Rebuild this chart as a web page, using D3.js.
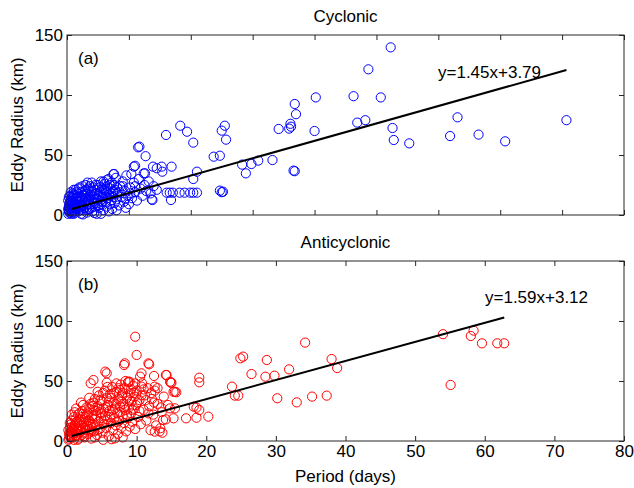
<!DOCTYPE html>
<html>
<head>
<meta charset="utf-8">
<script src="https://cdn.jsdelivr.net/npm/d3@7"></script>
<style>
  body { margin: 0; background: #fff; }
  text { font-family: "Liberation Sans", Arial, sans-serif; fill: #000; }
</style>
</head>
<body>
<div id="chart"></div>
<script>
// cyclonic eddies: [period (days), radius (km)]
const cycPoints = [
  [52.3,139.7],[48.7,121.4],[40.2,98],[46.3,99],[50.7,98],[36.8,92.5],[37,84],[40,70],[46.9,77],[48.2,79],
  [52.6,72.5],[52.8,62.5],[55.3,59.7],[63.1,81.4],[61.9,65.8],[66.5,67],[70.8,61.4],[80.7,79],
  [36.1,76],[36.2,73.6],[35.9,72],[34.2,71.7],[36.6,37],[36.8,36.5],[33.2,45.8],[30.9,45.3],[29.8,42.5],
  [28.9,34.7],[28.3,42],[25.5,74.4],[25,70.3],[25.7,62.8],[24.7,49.4],[23.7,48.6],[24.7,20.3],[25.2,19.4],[25,19],
  [19.4,69.4],[18.3,74.4],[20.4,60.3],[21,36.1],[20.4,30],[16,66.7],[16.9,40.3],[15.3,40.3],[15.4,36.1],
  [13.9,40.3],[13.8,12.5],[16.1,18.6],[16.6,18.6],[17.1,18.6],[18.2,18.6],[19,18.6],[19.9,18.6],[20.4,18.6],
  [21,18.6],[16.8,12.5],[11.7,57],[12.7,49],[12.4,34.7],[10.8,40.3],[10.4,34.2],[7.6,34.2],[5.9,27.8],
  [11.5,56.4],[11,41],[14.5,39],[12.6,34.7],[7.5,34],[6.4,29],[13.7,13],[4.4,1.7],
  [0.2,1],[0.3,4],[0.3,7],[0.4,10],[0.2,12],[0.7,1],[0.9,2],[1.1,1],[0.5,16],[0.9,18],[0.3,15],
  [0.4,2],[0.5,5],[0.6,8],[0.5,11],[0.7,3],[0.8,6],[0.9,9],[0.6,13],[0.8,15],[1.0,4],[1.1,7],[1.2,10],
  [1.0,12],[1.3,2],[1.4,14],[1.5,5],[1.6,8],[1.2,17],[1.7,11],[1.8,3],[1.9,13],[2.0,6],[2.1,9],[1.5,19],
  [2.2,15],[2.3,1],[2.4,12],[2.5,7],[2.6,17],[2.7,4],[2.8,10],[2.9,20],[3.0,14],[3.1,8],[3.2,2],[3.3,18],
  [3.4,12],[3.5,22],[3.6,5],[3.7,15],[3.8,9],[3.9,19],[4.0,13],[4.1,3],[4.2,23],[4.3,11],[4.4,17],[4.5,7],
  [4.6,21],[4.7,14],[4.8,1],[4.9,10],[5.0,25],[5.1,16],[5.2,6],[5.3,19],[5.4,12],[5.5,28],[5.6,9],[5.7,22],
  [5.8,15],[5.9,4],[6.0,18],[6.1,26],[6.2,11],[6.3,20],[6.4,7],[6.5,24],[6.6,14],[6.7,30],[6.8,17],[6.9,9],
  [7.0,22],[7.1,12],[7.2,27],[7.3,5],[7.4,19],[7.5,15],[7.6,25],[7.7,10],[7.8,21],[7.9,31],[8.0,13],[8.2,18],
  [8.4,8],[8.6,24],[8.8,15],[9.0,28],[9.2,11],[9.4,20],[9.6,33],[9.8,16],[10.0,9],[10.2,23],[10.5,14],
  [10.8,27],[11.0,19],[11.3,12],[11.6,30],[11.9,22],[12.2,16],[12.5,25],[12.8,20],[13.2,28],[13.5,18],
  [14.0,24],[14.5,21],[1.4,21],[2.0,23],[3.0,25],[4.0,27],[2.6,0.5],[5.5,1],[6.8,3],[8.0,4],[9.5,6],
  [0.3,3],[0.4,6],[0.6,9],[0.7,12],[0.9,14],[1.0,16],[1.1,3],[1.3,6],[1.3,9],[1.5,12],[1.6,15],[1.7,18],
  [1.8,7],[2.0,11],[2.1,14],[2.2,4],[2.3,19],[2.4,8],[2.5,13],[2.7,16],[2.8,6],[2.9,11],[3.0,21],[3.1,16],
  [3.3,4],[3.4,9],[3.6,13],[3.7,24],[3.8,17],[4.0,6],[4.1,20],[4.3,15],[4.5,10],[4.6,25],[4.8,18],[5.0,13],
  [5.1,8],[5.3,23],[5.5,17],[5.7,11],[6.0,21],[6.2,15],[6.5,19],[6.9,25],[7.2,16],[7.5,20],[8.1,23],
  [8.5,19],[9.0,24],[9.5,14],[10.2,18],[11.0,24],[0.6,19],[1.1,21],[1.9,22],[2.5,24],[3.3,27],[0.2,5],
  [0.4,8],[0.8,10]
];

// anticyclonic eddies: [period (days), radius (km)]
const antiPoints = [
  [54,89],[58.4,92],[58,87.5],[59.6,81.4],[61.8,81.4],[62.8,81.4],[55.1,46.7],[34.2,82],[38,68.3],[38.8,60.8],
  [37.3,37.8],[35.2,37],[33,32.2],[31.9,59.7],[30.2,35.6],[29.8,54.4],[28.5,53.6],[28.7,67.5],[26.5,55.8],
  [25.3,70.3],[24.9,68.9],[24.6,37.8],[24.1,37.8],[23.7,45.3],[20.3,20.3],[19,52.8],[19,48.9],[19,25.8],
  [18.6,19.4],[17.1,18.9],[15.3,18.9],[15.7,40.6],[14.9,48.6],[14.2,55],[14.8,27.2],[13.7,6.9],[12.5,54.2],
  [11.8,63.9],[10.7,56.4],[9.8,86.9],[10,71.7],[8.2,63.3],[8.8,49.4],[5.7,56.4],[5.7,48.6],[3.8,50.8],
  [3.4,48.1],[3.7,29.2],[6.9,2.2],[18.6,27.8],[18.2,28.6],[15.5,27.2],[15.3,41],[15,48.6],[5.5,57.8],
  [8.3,64.7],[11.7,64.7],[7.1,48],[7.6,42.5],[9,49.4],[10.5,53.6],[10.7,45.3],[12.6,45.3],[14.3,55],
  [14.8,49.4],[15.5,41],[13.8,17.5],[13.4,10.6],[12.6,7.8],
  [0.3,2],[0.4,5],[0.5,8],[0.4,11],[0.6,14],[0.7,3],[0.8,6],[0.9,10],[0.6,17],[1.0,1],[1.1,13],[1.2,7],
  [1.0,20],[1.3,4],[1.4,16],[1.5,10],[1.6,22],[1.7,2],[1.8,13],[1.9,8],[2.0,18],[2.1,5],[2.2,25],[2.3,11],
  [2.4,15],[2.5,3],[2.6,20],[2.7,9],[2.8,28],[2.9,13],[3.0,6],[3.1,23],[3.2,17],[3.3,10],[3.4,31],[3.5,2],
  [3.6,19],[3.7,14],[3.8,26],[3.9,8],[4.0,35],[4.1,12],[4.2,21],[4.3,5],[4.4,29],[4.5,16],[4.6,38],[4.7,10],
  [4.8,24],[4.9,19],[5.0,33],[5.1,7],[5.2,27],[5.3,14],[5.4,42],[5.5,21],[5.6,11],[5.7,36],[5.8,18],[5.9,30],
  [6.0,4],[6.1,25],[6.2,39],[6.3,15],[6.4,22],[6.5,45],[6.6,9],[6.7,32],[6.8,19],[6.9,27],[7.0,13],[7.1,41],
  [7.2,23],[7.3,6],[7.4,35],[7.5,17],[7.6,29],[7.7,47],[7.8,11],[7.9,38],[8.0,21],[8.1,31],[8.2,15],[8.3,44],
  [8.4,26],[8.5,8],[8.6,36],[8.7,19],[8.8,49],[8.9,28],[9.0,12],[9.1,40],[9.2,23],[9.3,33],[9.4,16],[9.5,46],
  [9.6,27],[9.7,37],[9.8,10],[9.9,30],[10.0,42],[10.2,20],[10.4,34],[10.6,14],[10.8,48],[11.0,26],[11.2,38],
  [11.4,17],[11.6,44],[11.8,29],[12.0,9],[12.2,35],[12.4,22],[12.6,42],[12.8,13],[13.0,31],[13.3,8],
  [13.6,24],[13.9,37],[14.2,18],[14.5,30],
  [0.2,1],[0.3,6],[0.5,3],[0.2,9],[0.8,12],[1.2,18],[1.5,1],[2.0,9],[2.4,4],[0.4,15],[1.8,23],[2.7,16],
  [3.0,12],[3.5,8],[4.0,3],[1.1,24],[2.3,30],[3.2,36],[4.4,41],[0.7,22],[5.2,1],[6.4,1.5],[8.0,3],
  [0.4,4],[0.6,7],[0.8,9],[1.0,11],[1.2,14],[1.4,5],[1.6,8],[1.8,17],[2.0,13],[2.2,20],[2.4,7],[2.6,11],
  [2.8,22],[3.0,17],[3.2,27],[3.4,14],[3.6,21],[3.8,32],[4.0,18],[4.2,25],[4.4,9],[4.6,27],[4.8,34],[5.0,23],
  [5.2,40],[5.4,17],[5.6,28],[5.8,45],[6.0,33],[6.2,20],[6.4,36],[6.6,26],[6.8,40],[7.0,31],[7.2,16],[7.4,44],
  [7.6,24],[7.8,33],[8.0,40],[8.2,28],[8.4,50],[8.6,22],[8.8,38],[9.0,34],[9.2,43],[9.4,26],[9.6,40],[9.8,48],
  [10.1,32],[10.4,25],[10.7,38],[11.0,43],[11.3,34],[11.7,23],[12.1,40],[12.5,32],[13.0,44],[13.5,28],
  [1.3,27],[2.0,32]
];

// regression fits: slope, intercept, x range drawn
const cycFit = { slope: 1.45, intercept: 3.79, range: [0.8, 80.7] };
const antiFit = { slope: 1.59, intercept: 3.12, range: [0.7, 62.8] };

const yTicks = [0, 50, 100, 150];
const cycXTicks = [0, 10, 20, 30, 40, 50, 60, 70, 80, 90];
const antiXTicks = [0, 10, 20, 30, 40, 50, 60, 70, 80];

const width = 634;
const height = 488;
const fontSize = `17px`;

const svg = d3.select(`#chart`).append(`svg`)
  .attr(`width`, width)
  .attr(`height`, height);

const drawPanel = (opts) => {
  const { top, points, fit, xMax, xTicks, color, title, tag, eqText, eqPos, showXLabels } = opts;
  const left = 67, right = 624, bottom = top + 180;

  const x = d3.scaleLinear().domain([0, xMax]).range([left, right]);
  const y = d3.scaleLinear().domain([0, 150]).range([bottom, top]);

  const g = svg.append(`g`);

  // markers first, axes frame drawn over them
  g.append(`g`).selectAll(`circle`)
    .data(points)
    .enter().append(`circle`)
      .attr(`cx`, (d) => x(d[0]))
      .attr(`cy`, (d) => y(d[1]))
      .attr(`r`, 4.6)
      .attr(`fill`, `none`)
      .attr(`stroke`, color)
      .attr(`stroke-width`, 1);

  const line = d3.line()
    .x((d) => x(d))
    .y((d) => y(fit.slope * d + fit.intercept));

  g.append(`path`)
    .datum(fit.range)
    .attr(`d`, line)
    .attr(`fill`, `none`)
    .attr(`stroke`, `#000`)
    .attr(`stroke-width`, 2);

  const style = (sel) => {
    sel.select(`.domain`).remove();
    sel.selectAll(`line`).attr(`stroke`, `#262626`);
    sel.selectAll(`text`).style(`font-size`, fontSize).attr(`fill`, `#000`);
  };

  g.append(`g`)
    .attr(`transform`, `translate(0,${bottom})`)
    .call(d3.axisBottom(x).tickValues(xTicks).tickSizeInner(-5).tickSizeOuter(0).tickPadding(4)
      .tickFormat(showXLabels ? d3.format(`d`) : () => ``))
    .call(style);
  g.append(`g`)
    .attr(`transform`, `translate(0,${top})`)
    .call(d3.axisTop(x).tickValues(xTicks).tickSizeInner(-5).tickSizeOuter(0).tickFormat(() => ``))
    .call(style);
  g.append(`g`)
    .attr(`transform`, `translate(${left},0)`)
    .call(d3.axisLeft(y).tickValues(yTicks).tickSizeInner(-5).tickSizeOuter(0).tickPadding(4))
    .call(style);
  g.append(`g`)
    .attr(`transform`, `translate(${right},0)`)
    .call(d3.axisRight(y).tickValues(yTicks).tickSizeInner(-5).tickSizeOuter(0).tickFormat(() => ``))
    .call(style);

  g.append(`rect`)
    .attr(`x`, left).attr(`y`, top)
    .attr(`width`, right - left).attr(`height`, bottom - top)
    .attr(`fill`, `none`)
    .attr(`stroke`, `#262626`)
    .attr(`stroke-width`, 1);

  g.append(`text`)
    .attr(`x`, (left + right) / 2).attr(`y`, top - 19)
    .attr(`text-anchor`, `middle`)
    .attr(`dominant-baseline`, `central`)
    .style(`font-size`, fontSize)
    .text(title);

  g.append(`text`)
    .attr(`x`, 78).attr(`y`, top + 23)
    .attr(`dominant-baseline`, `central`)
    .style(`font-size`, fontSize)
    .text(tag);

  g.append(`text`)
    .attr(`x`, eqPos[0]).attr(`y`, eqPos[1])
    .attr(`dominant-baseline`, `central`)
    .style(`font-size`, fontSize)
    .text(eqText);

  g.append(`text`)
    .attr(`transform`, `translate(17,${(top + bottom) / 2}) rotate(-90)`)
    .attr(`text-anchor`, `middle`)
    .attr(`dominant-baseline`, `central`)
    .style(`font-size`, fontSize)
    .text(`Eddy Radius (km)`);
};

drawPanel({
  top: 35, points: cycPoints, fit: cycFit, xMax: 90, xTicks: cycXTicks, color: `#0000ff`,
  title: `Cyclonic`, tag: `(a)`, eqText: `y=1.45x+3.79`, eqPos: [438, 72], showXLabels: false
});

drawPanel({
  top: 261, points: antiPoints, fit: antiFit, xMax: 80, xTicks: antiXTicks, color: `#ff0000`,
  title: `Anticyclonic`, tag: `(b)`, eqText: `y=1.59x+3.12`, eqPos: [485, 297], showXLabels: true
});

svg.append(`text`)
  .attr(`x`, 345.5).attr(`y`, 476)
  .attr(`text-anchor`, `middle`)
  .attr(`dominant-baseline`, `central`)
  .style(`font-size`, fontSize)
  .text(`Period (days)`);
</script>
</body>
</html>
